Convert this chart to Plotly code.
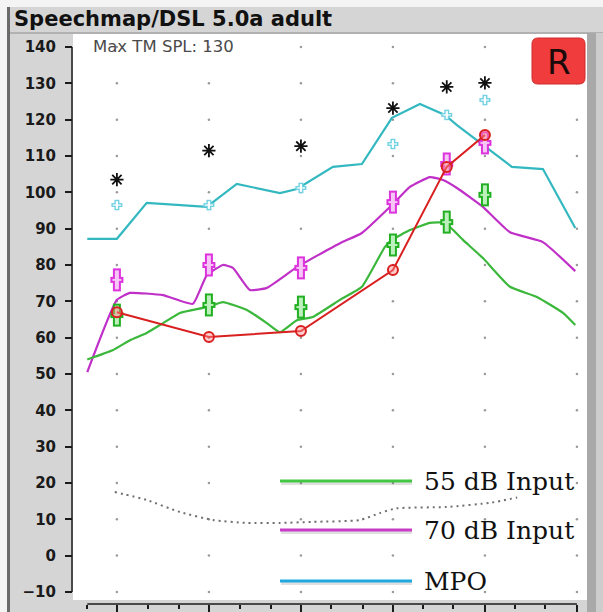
import plotly.graph_objects as go

# ---------------- data ----------------
OCTAVES = [250, 500, 1000, 2000, 4000, 8000]
THIRDS = [200, 315, 400, 630, 800, 1250, 1600, 2500, 3150, 5000, 6300]
DB_TICKS = list(range(-10, 141, 10))

TARGET_FREQS = [250, 500, 1000, 2000, 3000, 4000]
ucl = [103.5, 111.5, 112.7, 123.2, 129.0, 130.1]
threshold = [67.0, 60.2, 61.8, 78.6, 107.0, 115.8]
mpo_target = [96.5, 96.5, 101.2, 113.3, 121.3, 125.4]
target_70 = [75.9, 80.0, 79.2, 97.3, 107.8, 113.6]
target_55 = [66.2, 69.0, 68.4, 85.5, 91.8, 99.3]

mpo_freq = [200, 250, 313, 492, 617, 854, 970, 1273, 1583, 1985, 2451, 2959, 3240, 3766, 4900, 6192, 7900]
mpo_spl = [87.2, 87.2, 97.1, 96.0, 102.3, 99.8, 100.9, 107.0, 107.8, 120.5, 124.3, 121.3, 118.5, 114.4, 107.0, 106.4, 90.2]

in70_freq = [200, 250, 276, 354, 443, 492, 556, 599, 681, 774, 970, 1342, 1583, 1985, 2273, 2643, 2915, 3240, 3940, 4830, 6192, 7900]
in70_spl = [50.5, 70.4, 72.3, 71.7, 69.3, 77.2, 80.0, 79.2, 73.1, 73.7, 79.4, 86.0, 88.8, 96.5, 101.5, 104.2, 103.4, 101.2, 96.0, 89.0, 86.3, 78.3]

in55_freq = [200, 243, 276, 313, 354, 402, 492, 556, 666, 774, 854, 970, 1094, 1342, 1583, 1883, 1985, 2273, 2643, 2959, 3390, 3940, 4830, 5918, 7200, 7900]
in55_spl = [54.0, 56.6, 59.3, 61.3, 64.0, 66.8, 68.4, 69.8, 67.6, 64.0, 61.5, 64.8, 65.7, 70.4, 74.0, 85.0, 86.9, 89.6, 91.6, 91.6, 86.9, 81.9, 74.0, 71.2, 66.8, 63.5]

floor_freq = [246, 313, 402, 515, 666, 854, 1094, 1560, 1810, 2050, 3000, 4200, 5100]
floor_spl = [17.5, 15.3, 12.0, 9.8, 9.0, 9.0, 9.3, 9.8, 11.7, 13.0, 13.4, 14.6, 16.0]

LEGEND = [("55 dB Input", "#44c744"), ("70 dB Input", "#c83cc8"), ("MPO", "#1fa9df")]

# ---------------- geometry helpers (pixels -> paper) ----------------
W, H = 603, 612
L, R, T, B = 73, 587, 34, 604


def pxx(x):
    return (x - L) / (R - L)


def pxy(y):
    return (B - y) / (B - T)


fig = go.Figure()

# dot grid
gx = [f for f in OCTAVES for v in DB_TICKS]
gy = [v for f in OCTAVES for v in DB_TICKS]
fig.add_trace(go.Scatter(x=gx, y=gy, mode="markers",
                         marker=dict(size=2.5, color="#9a9a9a"), hoverinfo="skip"))

# dotted floor curve
fig.add_trace(go.Scatter(x=floor_freq, y=floor_spl, mode="lines",
                         line=dict(color="#6f6f6f", width=2, dash="2px,4px", shape="spline", smoothing=0.6),
                         hoverinfo="skip"))

# curves
fig.add_trace(go.Scatter(x=mpo_freq, y=mpo_spl, mode="lines", line=dict(color="#33b8c0", width=2.2)))
fig.add_trace(go.Scatter(x=in70_freq, y=in70_spl, mode="lines",
                         line=dict(color="#c030c8", width=2.2, shape="spline", smoothing=0.4)))
fig.add_trace(go.Scatter(x=in55_freq, y=in55_spl, mode="lines",
                         line=dict(color="#3bb83b", width=2.2, shape="spline", smoothing=0.4)))


def cross_target(x, y, color, fill, vlen, hlen, vw, hw, ow):
    parts = [("line-ns", vlen, vw, color), ("line-ew", hlen, hw, color),
             ("line-ns", vlen - 2 * ow, vw - 2 * ow, fill), ("line-ew", hlen - 2 * ow, hw - 2 * ow, fill)]
    for sym, ln, w, c in parts:
        fig.add_trace(go.Scatter(x=x, y=y, mode="markers", hoverinfo="skip",
                                 marker=dict(symbol=sym, size=ln / 1.4, color=c,
                                             line=dict(color=c, width=w))))


cross_target(TARGET_FREQS, mpo_target, "#72d2e2", "#ffffff", 10.5, 11, 5, 4, 1.4)
cross_target(TARGET_FREQS, target_70, "#dd33dd", "#f6c6f6", 23, 13, 8, 6, 2)
cross_target(TARGET_FREQS, target_55, "#22b022", "#bdf0bd", 23, 13, 8, 6, 2)

# threshold (red)
fig.add_trace(go.Scatter(x=TARGET_FREQS, y=threshold, mode="lines+markers",
                         line=dict(color="#d92020", width=2),
                         marker=dict(symbol="circle", size=10, color="rgba(255,140,140,0.45)",
                                     line=dict(color="#d92020", width=2))))

# UCL asterisks
fig.add_trace(go.Scatter(x=TARGET_FREQS, y=ucl, mode="markers",
                         marker=dict(symbol="asterisk-open", size=11, color="#111",
                                     line=dict(color="#111", width=1.8))))

shapes = []
# white outer strips
shapes.append(dict(type="rect", xref="paper", yref="paper", x0=pxx(0), x1=pxx(W), y0=pxy(0), y1=pxy(7),
                   fillcolor="#f4f4f4", line_width=0, layer="above"))
shapes.append(dict(type="rect", xref="paper", yref="paper", x0=pxx(0), x1=pxx(7), y0=pxy(0), y1=pxy(H),
                   fillcolor="#f4f4f4", line_width=0, layer="above"))
shapes.append(dict(type="rect", xref="paper", yref="paper", x0=pxx(7), x1=pxx(10), y0=pxy(7), y1=pxy(H),
                   fillcolor="#6a6a6a", line_width=0, layer="above"))
# separator under title bar
shapes.append(dict(type="line", xref="paper", yref="paper", x0=pxx(10), x1=pxx(W), y0=pxy(33), y1=pxy(33),
                   line=dict(color="#a5a5a5", width=1.5), layer="above"))
# right strips
shapes.append(dict(type="rect", xref="paper", yref="paper", x0=pxx(587), x1=pxx(596), y0=pxy(33), y1=pxy(H),
                   fillcolor="#a9a9a9", line_width=0, layer="above"))
shapes.append(dict(type="rect", xref="paper", yref="paper", x0=pxx(596), x1=pxx(W), y0=pxy(33), y1=pxy(H),
                   fillcolor="#cdcdcd", line_width=0, layer="above"))
# gray band at bottom of plot area
shapes.append(dict(type="rect", xref="paper", yref="paper", x0=0, x1=1, y0=pxy(604), y1=pxy(600),
                   fillcolor="#d5d5d5", line_width=0, layer="below"))
# axis lines
shapes.append(dict(type="line", xref="paper", yref="y", x0=pxx(72), x1=pxx(72), y0=-10, y1=140,
                   line=dict(color="#1a1a1a", width=1.5)))
shapes.append(dict(type="line", xref="x", yref="paper", x0=200, x1=8000, y0=0, y1=0,
                   line=dict(color="#1a1a1a", width=1.5)))


# R button (rounded rect)
def rrect(x0, y0, x1, y1, r):
    X = lambda v: pxx(v)
    Y = lambda v: pxy(v)
    return (f"M{X(x0 + r)},{Y(y0)} L{X(x1 - r)},{Y(y0)} Q{X(x1)},{Y(y0)} {X(x1)},{Y(y0 + r)} "
            f"L{X(x1)},{Y(y1 - r)} Q{X(x1)},{Y(y1)} {X(x1 - r)},{Y(y1)} "
            f"L{X(x0 + r)},{Y(y1)} Q{X(x0)},{Y(y1)} {X(x0)},{Y(y1 - r)} "
            f"L{X(x0)},{Y(y0 + r)} Q{X(x0)},{Y(y0)} {X(x0 + r)},{Y(y0)} Z")


shapes.append(dict(type="path", xref="paper", yref="paper", path=rrect(532, 38, 585, 84, 6),
                   fillcolor="#f03c3c", line=dict(color="#d02a2a", width=1), layer="above"))

# legend lines
leg_y = [481, 530, 581]
for (name, col), yy in zip(LEGEND, leg_y):
    shapes.append(dict(type="line", xref="paper", yref="paper", x0=pxx(281), x1=pxx(412),
                       y0=pxy(yy + 2.5), y1=pxy(yy + 2.5), line=dict(color="rgba(0,0,0,0.12)", width=3),
                       layer="above"))
    shapes.append(dict(type="line", xref="paper", yref="paper", x0=pxx(280), x1=pxx(412),
                       y0=pxy(yy), y1=pxy(yy), line=dict(color=col, width=3), layer="above"))

annotations = [
    dict(text="<b>Speechmap/DSL 5.0a adult</b>", xref="paper", yref="paper", x=pxx(12), y=pxy(19),
         xanchor="left", yanchor="middle", showarrow=False,
         font=dict(family="DejaVu Sans", size=21, color="#111")),
    dict(text="Max TM SPL: 130", xref="paper", yref="paper", x=pxx(91), y=pxy(47),
         xanchor="left", yanchor="middle", showarrow=False,
         font=dict(family="DejaVu Sans", size=16.5, color="#4a4a4a")),
    dict(text="R", xref="paper", yref="paper", x=pxx(559), y=pxy(62),
         xanchor="center", yanchor="middle", showarrow=False,
         font=dict(family="DejaVu Sans", size=34, color="#1a0a0a")),
]
for (name, col), yy in zip(LEGEND, leg_y):
    annotations.append(dict(text=name, xref="paper", yref="paper", x=pxx(422), y=pxy(yy),
                            xanchor="left", yanchor="middle", showarrow=False,
                            font=dict(family="DejaVu Serif", size=25, color="#111")))

y_per_px = 10 / 36.33
fig.update_layout(
    width=W, height=H, autosize=False,
    margin=dict(l=L, r=W - R, t=T, b=H - B, pad=0, autoexpand=False),
    paper_bgcolor="#d5d5d5", plot_bgcolor="white",
    showlegend=False,
    shapes=shapes, annotations=annotations,
    xaxis=dict(type="log", range=[2.2543, 3.936], showgrid=False, zeroline=False, showline=False,
               automargin=False,
               tickvals=OCTAVES, ticks="outside", ticklen=8, tickwidth=1.5, tickcolor="#1a1a1a",
               showticklabels=False,
               minor=dict(tickvals=THIRDS, ticks="outside", ticklen=4, tickwidth=1.5, tickcolor="#1a1a1a")),
    yaxis=dict(range=[140 - (B - 47) * y_per_px, 140 + (47 - T) * y_per_px], showgrid=False,
               zeroline=False, showline=False, automargin=False,
               tickvals=DB_TICKS, ticks="outside", ticklen=7,
               tickwidth=1.5, tickcolor="#1a1a1a", ticklabelstandoff=6,
               tickfont=dict(family="DejaVu Sans", size=15, color="#1a1a1a", weight="bold")),
)

fig.write_html(
    "out.html",
    config={"displayModeBar": False},
    post_script="document.body.style.margin='0';document.body.style.padding='0';"
                "document.documentElement.style.overflow='hidden';",
)
